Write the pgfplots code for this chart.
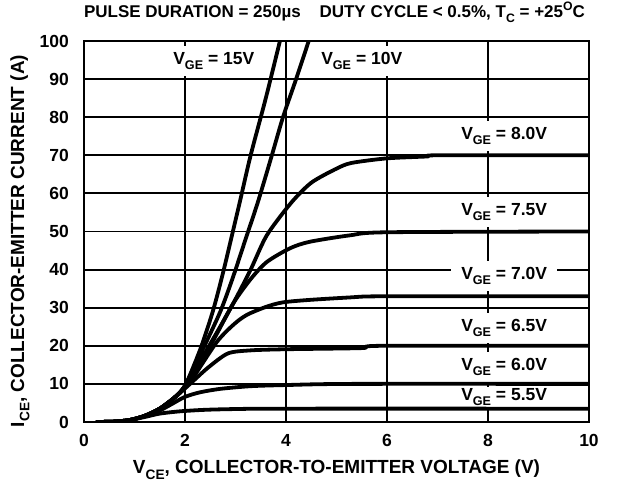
\documentclass[border=0pt]{standalone}
\usepackage{fontspec}
\setmainfont{Liberation Sans}
\usepackage{graphicx}
\usepackage{pgfplots}
\pgfplotsset{compat=1.18}

\newcommand\sub[1]{\raisebox{-0.28em}{\scalebox{0.72}{#1}}}
\newcommand\super[1]{\raisebox{0.42em}{\scalebox{0.72}{#1}}}
\tikzset{lbl/.style={fill=white, inner xsep=4pt, inner ysep=0pt, minimum height=30pt, font=\fontsize{17.5}{20}\selectfont\bfseries}}
\pgfplotsset{curve/.style={black, mark=none, line width=3.8pt, line join=round, line cap=round, smooth, tension=0.45}}

\begin{document}
\begin{tikzpicture}
\useasboundingbox (0,0) rectangle (619pt,485pt);
\begin{axis}[
  at={(84pt,63pt)}, anchor=south west,
  scale only axis, width=505pt, height=381pt,
  xmin=0, xmax=10, ymin=0, ymax=100,
  xtick={0,2,...,10}, ytick={0,10,...,100},
  major tick length=0pt,
  grid=major, major grid style={black, line width=1.9pt},
  axis line style={line width=2.1pt},
  font=\fontsize{19}{22}\selectfont\bfseries,
  /pgf/number format/assume math mode=true,
  ticklabel style={font=\fontsize{17.5}{21}\selectfont\bfseries},
  xticklabel style={anchor=north, inner sep=0pt, yshift=-12pt},
  yticklabel style={anchor=east, inner sep=0pt, xshift=-15pt},
  xlabel={V\sub{CE}, COLLECTOR-TO-EMITTER VOLTAGE (V)},
  ylabel={I\sub{CE}, COLLECTOR-EMITTER CURRENT (A)},
  xlabel style={at={(axis description cs:0.5,0)}, anchor=base, yshift=-52pt, inner sep=0pt},
  ylabel style={at={(axis description cs:-0.127,0.475)}, anchor=center, inner sep=0pt},
  title={PULSE DURATION = 250µs\hspace{1.1em}DUTY CYCLE < 0.5\%, T\sub{C} = +25\super{O}C},
  title style={at={(axis description cs:0.496,1)}, anchor=base, yshift=17pt, inner sep=0pt, font=\fontsize{17}{20}\selectfont\bfseries},
]
\node[lbl] at (axis cs:2.57,94.7) {V\sub{GE} = 15V};
\node[lbl] at (axis cs:5.5,94.7) {V\sub{GE} = 10V};
\node[lbl] at (axis cs:8.32,75.1) {V\sub{GE} = 8.0V};
\node[lbl] at (axis cs:8.32,55.0) {V\sub{GE} = 7.5V};
\node[lbl, inner xsep=10pt] at (axis cs:8.32,38.4) {V\sub{GE} = 7.0V};
\node[lbl] at (axis cs:8.32,24.6) {V\sub{GE} = 6.5V};
\node[lbl] at (axis cs:8.32,14.5) {V\sub{GE} = 6.0V};
\node[lbl, minimum height=20pt] at (axis cs:8.32,6.6) {V\sub{GE} = 5.5V};

% V_GE = 5.5 V
\addplot[curve] coordinates {(0.25,0)(0.6,0.1)(0.9,0.5)(1.2,1.3)(1.5,2.2)(1.9,2.8)(2.4,3.2)(3,3.4)(4,3.5)(10,3.5)};
% V_GE = 6.0 V
\addplot[curve] coordinates {(0.25,0)(0.6,0.1)(0.9,0.5)(1.2,1.5)(1.5,3)(1.75,4.8)(2,6.6)(2.3,7.8)(2.7,8.7)(3.3,9.4)(4,9.7)(5.3,10)(10,10)};
% V_GE = 6.5 V
\addplot[curve] coordinates {(0.25,0)(0.6,0.1)(0.9,0.5)(1.2,1.6)(1.5,3.5)(1.8,6.5)(2.1,10)(2.45,14.2)(2.85,18)(3.3,18.8)(4,19.1)(5.5,19.4)(5.9,20)(10,20)};
% V_GE = 7.0 V
\addplot[curve] coordinates {(0.25,0)(0.6,0.1)(0.9,0.5)(1.2,1.6)(1.5,3.5)(1.8,6.5)(2.1,10.5)(2.63,21)(3.0,26)(3.3,28.6)(3.94,31.4)(5.27,32.7)(6,33)(10,33)};
% V_GE = 7.5 V
\addplot[curve] coordinates {(0.25,0)(0.6,0.1)(0.9,0.5)(1.2,1.6)(1.5,3.5)(1.8,6.5)(2,9.5)(2.5,20)(2.95,31)(3.3,37.5)(3.62,42)(4.08,45.6)(4.47,47.3)(5.27,49)(6,49.8)(10,50)};
% V_GE = 8.0 V
\addplot[curve] coordinates {(0.25,0)(0.6,0.1)(0.9,0.5)(1.2,1.6)(1.5,3.5)(1.8,6.5)(2,9.5)(2.5,20.5)(2.95,31)(3.3,40)(3.62,49)(4.1,57.5)(4.5,62.8)(5,66.5)(5.3,68)(6,69.2)(6.8,69.7)(7,70)(10,70)};
% V_GE = 10 V
\addplot[curve] coordinates {(0.25,0)(0.6,0.1)(0.9,0.5)(1.2,1.6)(1.5,3.5)(1.8,6.5)(2,9.5)(2.35,19)(2.7,29)(2.95,38)(3.2,48)(3.45,58)(3.72,70)(3.94,80)(4.2,90)(4.45,100)};
% V_GE = 15 V
\addplot[curve] coordinates {(0.25,0)(0.6,0.1)(0.9,0.5)(1.2,1.6)(1.5,3.5)(1.8,6.5)(2,9.5)(2.3,19)(2.55,29)(2.75,39)(2.93,49)(3.09,58)(3.3,70)(3.6,85)(3.88,100)};
\end{axis}
\end{tikzpicture}
\end{document}
